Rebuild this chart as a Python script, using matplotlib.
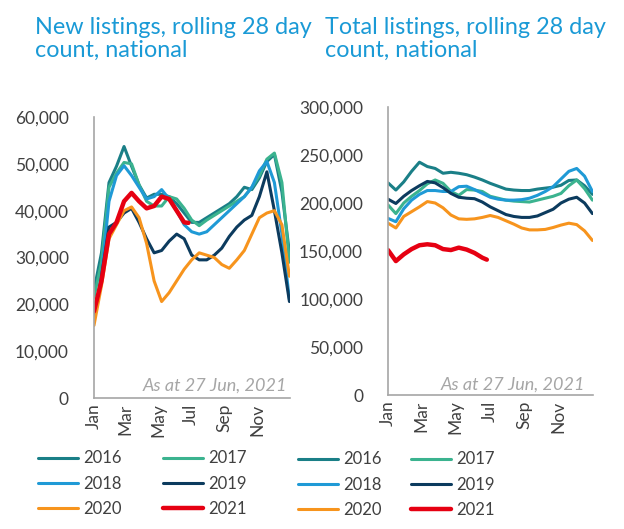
import numpy as np
import matplotlib
matplotlib.use('Agg')
import matplotlib.pyplot as plt

plt.rcParams['font.family'] = ['Lato', 'DejaVu Sans']

# day of year for each fortnightly reading
DAYS = list(range(0, 365, 14))
DAYS_2021 = list(range(0, 169, 14)) + [176]

YEARS = ['2016', '2017', '2018', '2019', '2020', '2021']
COLORS = ['#1a7f87', '#3bb38f', '#1f9ad6', '#0c3b5e', '#f7941d', '#e60012']
WIDTHS = [2.2, 2.2, 2.2, 2.2, 2.2, 3.2]

# New listings, rolling 28 day count
new_2016 = [23000, 31000, 46000, 49500, 53700, 49500, 45500, 42700, 43500, 43500, 43000, 41500, 39500, 37500,
            37500, 38500, 39500, 40500, 41500, 43000, 45000, 44500, 47000, 50500, 52000, 44000, 31000]
new_2017 = [21500, 29000, 45000, 48000, 50300, 50000, 45500, 42000, 41000, 41000, 43000, 42500, 40500, 38000,
            36800, 38000, 39000, 40000, 41000, 42000, 43000, 45000, 47500, 51000, 52300, 46000, 29000]
new_2018 = [17000, 26000, 42000, 47500, 49600, 47500, 45000, 42500, 43000, 44500, 42500, 40000, 37000, 35500,
            35000, 35500, 37000, 38500, 40000, 41500, 43000, 45000, 48500, 50500, 46000, 35000, 21000]
new_2019 = [16500, 26000, 36500, 37500, 39500, 40500, 37500, 34000, 31000, 31500, 33500, 35000, 34000, 30500,
            29500, 29500, 30500, 32000, 34500, 36500, 38000, 39000, 43000, 48300, 40000, 31000, 20600]
new_2020 = [15500, 24000, 34000, 37000, 40000, 40800, 38500, 33000, 25000, 20600, 22500, 25000, 27500, 29500,
            31000, 30500, 30000, 28500, 27700, 29500, 31500, 35000, 38500, 39500, 40000, 37000, 26000]
new_2021 = [18500, 25000, 35000, 37500, 42000, 43800, 42000, 40500, 41000, 43000, 42500, 40000, 37500, 37400]

# Total listings, rolling 28 day count
tot_2016 = [221000, 213500, 222000, 233000, 242500, 238000, 236000, 231000, 232000, 231000, 229500, 227000,
            224000, 220500, 217500, 214500, 213500, 213000, 213000, 214500, 215500, 216500, 218500, 223500,
            224000, 218000, 209000]
tot_2017 = [198000, 189000, 200000, 207000, 213000, 220000, 224000, 220500, 212000, 208000, 214000, 213500,
            212000, 207000, 205000, 203000, 202000, 201500, 201000, 203000, 205000, 207000, 210000, 218000,
            224000, 215000, 203000]
tot_2018 = [184000, 180500, 194000, 203000, 209000, 213000, 213000, 212000, 212000, 217000, 217500, 214000,
            210000, 206000, 204000, 203000, 203000, 203500, 205000, 208000, 212000, 217000, 225000, 233000,
            236000, 228000, 212000]
tot_2019 = [204000, 199500, 207000, 213000, 218000, 222500, 221000, 216000, 210000, 206000, 205000, 204500,
            201000, 196000, 192000, 188000, 186000, 185000, 185000, 186500, 190000, 193500, 200000, 204000,
            206000, 200000, 189000]
tot_2020 = [179000, 174000, 186000, 191000, 196000, 201500, 200000, 195000, 187500, 183500, 183000, 183500,
            185000, 187000, 185000, 181500, 178000, 174000, 172000, 172000, 172500, 174500, 177000, 179000,
            177500, 171000, 161000]
tot_2021 = [151000, 139500, 146500, 152000, 156000, 157000, 156000, 152000, 151000, 153500, 151500, 148000,
            143000, 141000]

MONTH_DAYS = [0, 59, 120, 181, 243, 304]
MONTH_LABELS = ['Jan', 'Mar', 'May', 'Jul', 'Sep', 'Nov']

TITLE_COLOR = '#1a9ad6'
TEXT_COLOR = '#404040'
AXIS_COLOR = '#a6a6a6'


def draw_panel(ax, series, ymax, ystep):
    lines = []
    for i, vals in enumerate(series):
        xs = DAYS_2021 if YEARS[i] == '2021' else DAYS
        line, = ax.plot(xs, vals, color=COLORS[i], lw=WIDTHS[i], solid_capstyle='round',
                        solid_joinstyle='round', label=YEARS[i])
        lines.append(line)
    ax.set_xlim(0, 365)
    ax.set_ylim(0, ymax)
    ax.set_yticks(np.arange(0, ymax + 1, ystep))
    ax.yaxis.set_major_formatter(matplotlib.ticker.FuncFormatter(lambda v, p: '{:,.0f}'.format(v)))
    ax.set_xticks(MONTH_DAYS)
    ax.set_xticklabels(MONTH_LABELS, rotation=90)
    ax.tick_params(length=0, labelsize=12.5, colors=TEXT_COLOR)
    ax.tick_params(axis='y', pad=18)
    ax.tick_params(axis='x', pad=4)
    for s in ['top', 'right']:
        ax.spines[s].set_visible(False)
    for s in ['left', 'bottom']:
        ax.spines[s].set_color(AXIS_COLOR)
        ax.spines[s].set_linewidth(1.2)
    return lines


fig = plt.figure(figsize=(6.24, 5.29), dpi=100)
ax0 = fig.add_axes([0.1506, 0.2476, 0.3141, 0.5312])
ax1 = fig.add_axes([0.6218, 0.2533, 0.3285, 0.5444])

lines0 = draw_panel(ax0, [new_2016, new_2017, new_2018, new_2019, new_2020, new_2021], 60000, 10000)
lines1 = draw_panel(ax1, [tot_2016, tot_2017, tot_2018, tot_2019, tot_2020, tot_2021], 300000, 50000)

ax0.text(0.985, 0.043, 'As at 27 Jun, 2021', transform=ax0.transAxes, ha='right', va='center',
         style='italic', fontsize=13, color=AXIS_COLOR)
ax1.text(0.961, 0.035, 'As at 27 Jun, 2021', transform=ax1.transAxes, ha='right', va='center',
         style='italic', fontsize=13, color=AXIS_COLOR)

fig.text(0.056, 0.968, 'New listings, rolling 28 day\ncount, national', ha='left', va='top',
         fontsize=16.8, color=TITLE_COLOR, linespacing=1.1)
fig.text(0.521, 0.968, 'Total listings, rolling 28 day\ncount, national', ha='left', va='top',
         fontsize=16.8, color=TITLE_COLOR, linespacing=1.1)

order = [0, 2, 4, 1, 3, 5]
fig.legend([lines0[i] for i in order], [YEARS[i] for i in order], loc='center left',
           bbox_to_anchor=(0.061, 0.086), ncol=2, frameon=False, fontsize=12, handlelength=2.4,
           handletextpad=0.3, columnspacing=2.5, labelspacing=0.55, borderpad=0, borderaxespad=0,
           labelcolor=TEXT_COLOR)
fig.legend([lines1[i] for i in order], [YEARS[i] for i in order], loc='center left',
           bbox_to_anchor=(0.478, 0.084), ncol=2, frameon=False, fontsize=12, handlelength=2.4,
           handletextpad=0.3, columnspacing=1.75, labelspacing=0.55, borderpad=0, borderaxespad=0,
           labelcolor=TEXT_COLOR)

fig.savefig('out.png', dpi=100)
